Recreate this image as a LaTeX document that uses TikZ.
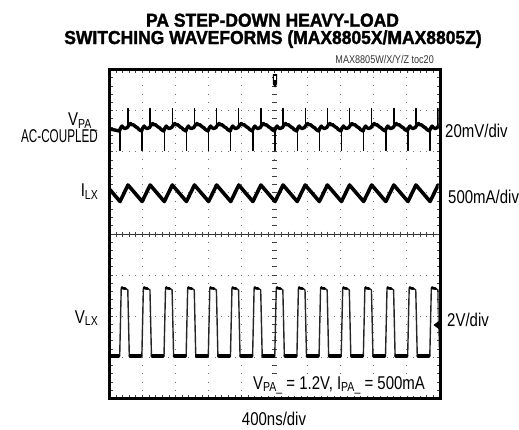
\documentclass[tikz,border=0pt]{standalone}
\usepackage{fontspec}
\setmainfont{Liberation Sans}
\newfontfamily\labfont{Liberation Sans}[FakeStretch=0.81]
\newfontfamily\ttlfont{Liberation Sans}[FakeStretch=0.93,FakeBold=1.6]
\newcommand{\lsub}[1]{\raisebox{-2.6bp}{\fontsize{13bp}{13bp}\selectfont #1}}
\tikzset{
  lab/.style={font=\labfont\fontsize{18.5bp}{20bp}\selectfont, inner sep=0pt, text=black},
  ttl/.style={font=\ttlfont\bfseries\fontsize{18.8bp}{20bp}\selectfont, inner sep=0pt},
  small/.style={font=\labfont\fontsize{11.2bp}{12bp}\selectfont, inner sep=0pt, text=black!80},
  hdots/.style={draw=black!55, line width=1bp, dash pattern=on 1bp off 5.61bp},
  vdots/.style={draw=black!55, line width=1bp, dash pattern=on 1bp off 7.225bp},
  frame/.style={draw=black, line width=3bp},
  tick/.style={draw=black!75, line width=0.9bp},
  trace/.style={draw=black, line join=round, line cap=round},
}
\begin{document}
\begin{tikzpicture}[x=1bp,y=-1bp]
\path[use as bounding box] (0,0) rectangle (519,429);

% title
\node[ttl, anchor=base] (t1) at (272.5,26.7) {PA STEP-DOWN HEAVY-LOAD};
\node[ttl, anchor=base] (t2) at (273,44) {SWITCHING WAVEFORMS (MAX8805X/MAX8805Z)};
\node[small, anchor=base east] (toc) at (434,63) {MAX8805W/X/Y/Z toc20};

% grid
\foreach \i in {1,2,3,4,6,7,8,9}
  \draw[vdots] ({109.5+\i*33.05},69) -- ({109.5+\i*33.05},398.5);
\foreach \j in {1,2,3,5,6,7}
  \draw[hdots] (109,{69.5+\j*41.125}) -- (440,{69.5+\j*41.125});
% center axes
\draw[black!80, line width=1bp] (109.5,234) -- (440,234);
\foreach \m in {1,...,49}
  \draw[tick] ({109.5+\m*6.61},231.5) -- ({109.5+\m*6.61},236.5);
\draw[vdots] (274.75,69) -- (274.75,398.5);
\foreach \m in {1,...,39}
  \draw[tick] (272.3,{69.5+\m*8.225}) -- (277.2,{69.5+\m*8.225});
% frame ticks
\foreach \m in {1,...,49} {
  \draw[tick] ({109.5+\m*6.61},69.5) -- ({109.5+\m*6.61},73);
  \draw[tick] ({109.5+\m*6.61},398.5) -- ({109.5+\m*6.61},395);
}
\foreach \m in {1,...,39} {
  \draw[tick] (109.5,{69.5+\m*8.225}) -- (113,{69.5+\m*8.225});
  \draw[tick] (440,{69.5+\m*8.225}) -- (436.5,{69.5+\m*8.225});
}

% traces
\begin{scope}
\clip (111,71) rectangle (438.5,397);
% V_PA band
\draw[trace, line width=3.4bp] (110,129)
  \foreach \k [evaluate=\k as \r using {120+\k*22.15}] in {0,...,14} {
    -- ({\r-0.6},131) -- ({\r+0.6},128) -- ({\r+2},126) -- ({\r+3},127.5) -- ({\r+5},128.5)
    -- ({\r+7.4},127.5) -- ({\r+8.6},125.5) -- ({\r+10.5},123.5) -- ({\r+12},125) -- ({\r+13},124.5)
    -- ({\r+16},127) -- ({\r+17.5},127.8) -- ({\r+19},129.5)
  } -- (440,129);
\foreach \k [evaluate=\k as \r using {120+\k*22.15}] in {0,...,14} {
  \draw[trace, line width=1.4bp] (\r,130) -- (\r,150.5);
  \draw[trace, line width=1.4bp] ({\r+8},127) -- ({\r+8},108.5);
}
% I_LX
\draw[trace, line width=3.6bp] (110,189.7)
  \foreach \k [evaluate=\k as \r using {120+\k*22.15}] in {0,...,14} {
    -- (\r,201.5) -- ({\r+8},185)
  } -- (440,187.3);
% V_LX
\draw[trace, line width=1.4bp, draw=black!85] (110,356)
  \foreach \k [evaluate=\k as \r using {120+\k*22.15}] in {0,...,14} {
    -- ({\r-0.3},356) -- ({\r+1.2},289) -- ({\r+2},286.8) -- ({\r+3},288.5)
    -- ({\r+6.5},289) -- ({\r+7.8},290) -- ({\r+9.3},356)
  } -- (440,356);
\draw[trace, line width=3.4bp] (110,356) -- (118.5,356);
\foreach \k [evaluate=\k as \r using {120+\k*22.15}] in {0,...,13} {
  \draw[trace, line width=3.4bp] ({\r+10.2},356) -- ({\r+20.8},356);
  \draw[trace, line width=2.6bp] ({\r+1.8},288) -- ({\r+5.5},288.6);
}
\draw[trace, line width=2.6bp] ({120+14*22.15+1.8},288) -- ({120+14*22.15+5.5},288.6);
\end{scope}

% markers
\fill[black] (272.8,74) -- (277.2,74) -- (277.2,84) -- (275,87.5) -- (272.8,84) -- cycle;
\fill[white] (274.2,76) rectangle (275.8,80);
\fill[black] (440,320) -- (433.5,325) -- (440,330) -- cycle;

% frame
\draw[frame] (109.5,69.5) rectangle (440,398.5);

% labels
\node[lab, anchor=base east] (vpa) at (97.5,125.5) {V\lsub{PA\_}};
\node[lab, anchor=base east] (ac) at (98,142.5) {\scalebox{0.78}[1]{AC-COUPLED}};
\node[lab, anchor=base east] (ilx) at (98,196.7) {I\lsub{LX}};
\node[lab, anchor=base east] (vlx) at (98,323.3) {V\lsub{LX}};
\node[lab, anchor=base west] (s1) at (445,137) {20mV/div};
\node[lab, anchor=base west] (s2) at (448,203.5) {500mA/div};
\node[lab, anchor=base west] (s3) at (447,326) {2V/div};
\node[lab, anchor=base, fill=white, inner sep=1.5bp] (cond) at (339,389) {V\lsub{PA\_} = 1.2V, I\lsub{PA\_} = 500mA};
\node[lab, anchor=base] (time) at (274,425.5) {400ns/div};
\end{tikzpicture}
\end{document}
